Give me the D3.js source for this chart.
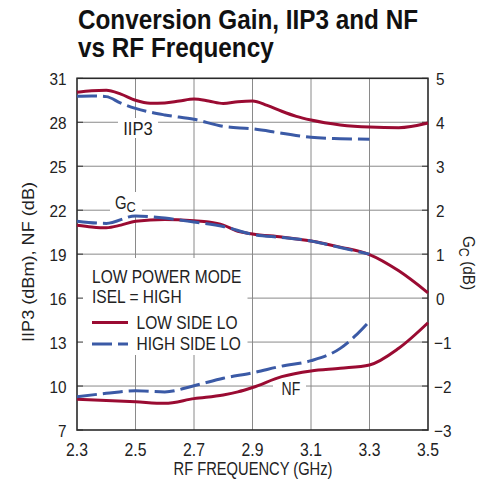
<!DOCTYPE html>
<html><head><meta charset="utf-8">
<script src="https://cdn.jsdelivr.net/npm/d3@7"></script>
<style>
html,body{margin:0;padding:0;background:#fff;}
text{font-family:"Liberation Sans",Arial,sans-serif;fill:#222;}
</style></head><body>
<script>
const xTicks = [2.3, 2.5, 2.7, 2.9, 3.1, 3.3, 3.5];
const yLeftTicks = [7, 10, 13, 16, 19, 22, 25, 28, 31];
const yRightTicks = [-3, -2, -1, 0, 1, 2, 3, 4, 5];

const iip3LowF = [2.3, 2.35, 2.4, 2.45, 2.5, 2.55, 2.6, 2.65, 2.7, 2.75, 2.8, 2.85, 2.9, 2.95, 3.0, 3.05, 3.1, 3.2, 3.3, 3.4, 3.5];
const iip3LowV = [30.05, 30.15, 30.18, 29.92, 29.5, 29.3, 29.32, 29.45, 29.58, 29.45, 29.28, 29.4, 29.45, 29.15, 28.75, 28.4, 28.15, 27.82, 27.67, 27.63, 27.95];
const iip3HighF = [2.3, 2.35, 2.4, 2.45, 2.5, 2.6, 2.7, 2.8, 2.9, 3.0, 3.1, 3.2, 3.3];
const iip3HighV = [29.77, 29.8, 29.75, 29.3, 28.95, 28.5, 28.2, 27.72, 27.55, 27.25, 26.97, 26.88, 26.84];

const gcLowF = [2.3, 2.35, 2.4, 2.45, 2.5, 2.6, 2.7, 2.75, 2.8, 2.85, 2.9, 3.0, 3.1, 3.2, 3.3, 3.4, 3.5];
const gcLowV = [1.66, 1.62, 1.60, 1.66, 1.75, 1.79, 1.76, 1.73, 1.66, 1.52, 1.46, 1.39, 1.30, 1.16, 0.99, 0.62, 0.12];
const gcHighF = [2.3, 2.4, 2.5, 2.6, 2.7, 2.8, 2.9, 3.0, 3.1, 3.2, 3.3];
const gcHighV = [1.75, 1.70, 1.87, 1.82, 1.73, 1.63, 1.45, 1.38, 1.30, 1.15, 1.0];

const nfLowF = [2.3, 2.5, 2.6, 2.7, 2.8, 2.85, 2.9, 3.0, 3.1, 3.2, 3.3, 3.4, 3.5];
const nfLowV = [9.10, 8.93, 8.82, 9.14, 9.39, 9.6, 9.9, 10.64, 11.03, 11.21, 11.44, 12.58, 14.32];
const nfHighF = [2.3, 2.4, 2.5, 2.6, 2.7, 2.8, 2.9, 3.0, 3.1, 3.2, 3.25, 3.3];
const nfHighV = [9.27, 9.5, 9.68, 9.6, 10.02, 10.53, 10.9, 11.36, 11.73, 12.57, 13.4, 14.43];

const RED = "#9a0b32", BLUE = "#3b5aa6";
const W = 489, H = 489;
const L = 77, R = 428, T = 78.3, B = 430;

const svg = d3.select("body").append("svg").attr("width", W).attr("height", H);
const x = d3.scaleLinear().domain([2.3, 3.5]).range([L, R]);
const yL = d3.scaleLinear().domain([7, 31]).range([B, T]);
const yR = d3.scaleLinear().domain([-3, 5]).range([B, T]);

// condensed text helper
function ctext(px, py, str, size, sx, anchor, rot) {
  const t = svg.append("text")
    .attr("transform", `translate(${px},${py})${rot ? ` rotate(${rot})` : ""} scale(${sx},1)`)
    .attr("font-size", size).attr("text-anchor", anchor || "start");
  if (str !== null) t.text(str);
  return t;
}

// title
const tl1 = ctext(78, 28.5, "Conversion Gain, IIP3 and NF", 27, 0.9, "start");
tl1.attr("font-weight", "bold").style("fill", "#111");
const tl2 = ctext(78, 57, "vs RF Frequency", 27, 0.9, "start");
tl2.attr("font-weight", "bold").style("fill", "#111");

// grid
const grid = svg.append("g").attr("stroke", "#8a8a8a").attr("stroke-width", 1);
xTicks.slice(1, -1).forEach(t => grid.append("line").attr("x1", x(t)).attr("x2", x(t)).attr("y1", T).attr("y2", B));
yLeftTicks.slice(1, -1).forEach(t => grid.append("line").attr("x1", L).attr("x2", R).attr("y1", yL(t)).attr("y2", yL(t)));

// white boxes for labels / legend
const wb = svg.append("g").attr("fill", "#fff");
wb.append("rect").attr("x", L + 0.5).attr("y", 258).attr("width", 170).attr("height", 97);
wb.append("rect").attr("x", 118).attr("y", 118).attr("width", 40).attr("height", 20);
wb.append("rect").attr("x", 110).attr("y", 192).attr("width", 32).attr("height", 24);
wb.append("rect").attr("x", 273).attr("y", 378).attr("width", 33).attr("height", 20);

// ticks (inside)
const tk = svg.append("g").attr("stroke", "#333").attr("stroke-width", 1);
yLeftTicks.forEach(t => tk.append("line").attr("x1", L).attr("x2", L + 6).attr("y1", yL(t)).attr("y2", yL(t)));
yRightTicks.forEach(t => tk.append("line").attr("x1", R - 6).attr("x2", R).attr("y1", yR(t)).attr("y2", yR(t)));

// frame
svg.append("rect").attr("x", L).attr("y", T).attr("width", R - L).attr("height", B - T)
  .attr("fill", "none").attr("stroke", "#2a2a2a").attr("stroke-width", 1.6);

// lines
function series(F, V, ys, color, dashed) {
  const line = d3.line().x((d, i) => x(F[i])).y((d, i) => ys(V[i])).curve(d3.curveMonotoneX);
  svg.append("path").attr("d", line(V)).attr("fill", "none").attr("stroke", color)
    .attr("stroke-width", 3).attr("stroke-linejoin", "round")
    .attr("stroke-dasharray", dashed ? "20,6" : null);
}
series(iip3LowF, iip3LowV, yL, RED, false);
series(iip3HighF, iip3HighV, yL, BLUE, true);
series(gcLowF, gcLowV, yR, RED, false);
series(gcHighF, gcHighV, yR, BLUE, true);
series(nfLowF, nfLowV, yL, RED, false);
series(nfHighF, nfHighV, yL, BLUE, true);

// tick labels
const fmt = v => (v < 0 ? "\u2212" + Math.abs(v) : String(v));
yLeftTicks.forEach(t => ctext(66.5, yL(t) + 7, String(t), 17, 0.9, "end"));
yRightTicks.forEach(t => ctext(t < 0 ? 434 : 436, yR(t) + 7, fmt(t), 17, 0.9, "start"));
xTicks.forEach(t => ctext(x(t), 455.5, t.toFixed(1), 17.5, 0.9, "middle"));

// axis titles
ctext(253, 475, "RF FREQUENCY (GHz)", 17.5, 0.84, "middle");
ctext(34, 262, "IIP3 (dBm), NF (dB)", 17, 1.0, "middle", -90).attr("textLength", 160).attr("lengthAdjust", "spacingAndGlyphs");
const gt = ctext(463, 263, null, 17, 0.9, "middle", 90);
gt.append("tspan").text("G");
gt.append("tspan").attr("dy", 4).attr("font-size", 14).text("C");
gt.append("tspan").attr("dy", -4).text(" (dB)");

// curve labels
ctext(138, 135, "IIP3", 17.5, 0.95, "middle");
const gl = ctext(115, 209, null, 17.5, 0.85, "start");
gl.append("tspan").text("G");
gl.append("tspan").attr("dy", 3).attr("font-size", 15).text("C");
ctext(281.5, 395, "NF", 18.5, 0.76, "start");

// legend
ctext(92, 282.5, "LOW POWER MODE", 18.5, 0.84, "start");
ctext(92, 302.5, "ISEL = HIGH", 18.5, 0.84, "start");
svg.append("line").attr("x1", 92).attr("x2", 128).attr("y1", 322.5).attr("y2", 322.5).attr("stroke", RED).attr("stroke-width", 3);
svg.append("line").attr("x1", 92).attr("x2", 128).attr("y1", 344).attr("y2", 344).attr("stroke", BLUE).attr("stroke-width", 3).attr("stroke-dasharray", "20,6");
ctext(136.5, 329, "LOW SIDE LO", 18.5, 0.84, "start");
ctext(136.5, 350, "HIGH SIDE LO", 18.5, 0.84, "start");
</script>
</body></html>
